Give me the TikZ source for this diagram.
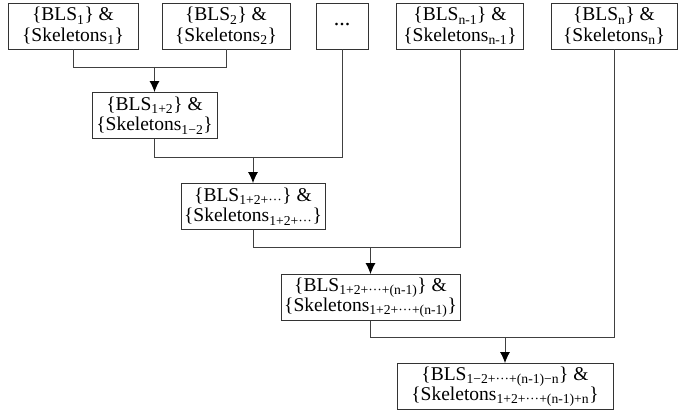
\documentclass[tikz,border=0pt]{standalone}
\usepackage{fontspec}
\setmainfont{Liberation Serif}
\usetikzlibrary{arrows.meta}
\begin{document}
\begin{tikzpicture}[x=1pt,y=-1pt,
  box/.style={draw=black!80,line width=0.9pt,inner sep=0pt,align=center,
    font=\fontsize{19.5}{20.5}\selectfont,minimum height=46pt},
  conn/.style={draw=black!75,line width=0.9pt},
  arr/.style={conn,-{Latex[length=11pt,width=10pt,color=black]}}]
\useasboundingbox (0,0) rectangle (683,414);
\node[box,minimum width=130pt] (b1) at (73,26) {\{BLS\textsubscript{1}\} \&\\\{Skeletons\textsubscript{1}\}};
\node[box,minimum width=128pt] (b2) at (226,26) {\{BLS\textsubscript{2}\} \&\\\{Skeletons\textsubscript{2}\}};
\node[box,minimum width=52pt] (bd) at (342,26) {\raisebox{4pt}{\fontsize{22}{22}\selectfont ...}};
\node[box,minimum width=127pt] (bn1) at (460,26) {\{BLS\textsubscript{n-1}\} \&\\\{Skeletons\textsubscript{n-1}\}};
\node[box,minimum width=126pt] (bn) at (614,26) {\{BLS\textsubscript{n}\} \&\\\{Skeletons\textsubscript{n}\}};
\node[box,minimum width=125pt] (b3) at (154.5,115.5) {\{BLS\textsubscript{1+2}\} \&\\\{Skeletons\textsubscript{1−2}\}};
\node[box,minimum width=144pt] (b4) at (253,206.5) {\{BLS\textsubscript{1+2+···}\} \&\\\{Skeletons\textsubscript{1+2+···}\}};
\node[box,minimum width=179pt] (b5) at (370.5,297.5) {\{BLS\textsubscript{1+2+···+(n-1)}\} \&\\\{Skeletons\textsubscript{1+2+···+(n-1)}\}};
\node[box,minimum width=216pt] (b6) at (505,386.5) {\{BLS\textsubscript{1−2+···+(n-1)−n}\} \&\\\{Skeletons\textsubscript{1+2+···+(n-1)+n}\}};
\coordinate (m1) at (154.5,67);
\coordinate (m2) at (253,157);
\coordinate (m3) at (370.5,247);
\coordinate (m4) at (505,337);
\draw[conn] (b1.south) -- (b1.south |- m1) -- (b2.south |- m1) -- (b2.south);
\draw[arr] (m1) -- (b3.north);
\draw[conn] (b3.south) -- (b3.south |- m2) -- (bd.south |- m2) -- (bd.south);
\draw[arr] (m2) -- (b4.north);
\draw[conn] (b4.south) -- (b4.south |- m3) -- (bn1.south |- m3) -- (bn1.south);
\draw[arr] (m3) -- (b5.north);
\draw[conn] (b5.south) -- (b5.south |- m4) -- (bn.south |- m4) -- (bn.south);
\draw[arr] (m4) -- (b6.north);
\end{tikzpicture}
\end{document}
